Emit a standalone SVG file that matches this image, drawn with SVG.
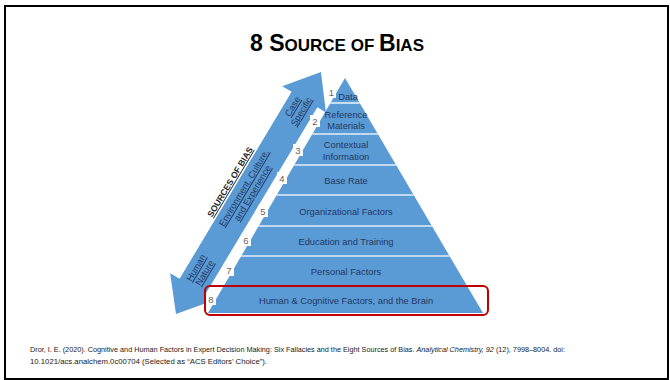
<svg xmlns="http://www.w3.org/2000/svg" width="670" height="380" viewBox="0 0 670 380">
  <style>
    .lbl { font-family: "Liberation Sans", Arial, sans-serif; font-size: 9.3px; fill: #1f3864; text-anchor: middle; }
    .num { font-family: "Liberation Sans", Arial, sans-serif; font-size: 9.5px; fill: #6b6258; text-anchor: middle; }
    .numbg { fill: #ffffff; }
    .arr { font-family: "Liberation Sans", Arial, sans-serif; font-size: 9.1px; fill: #1f3864; text-anchor: middle; text-decoration: underline; }
    .sep { stroke: #e3eef9; stroke-width: 1.6; }
    .cite { font-family: "Liberation Sans", Arial, sans-serif; font-size: 6.3px; fill: #1a1a1a; }
  </style>
  <rect x="0" y="0" width="670" height="380" fill="#ffffff"/>
  <rect x="5" y="6" width="663" height="373" fill="none" stroke="#000000" stroke-width="2"/>

  <g id="title">
    <text x="337" y="51" font-family="'Liberation Sans', Arial, sans-serif" font-weight="bold" fill="#000000" text-anchor="middle"><tspan font-size="23">8 S</tspan><tspan font-size="17">OURCE OF </tspan><tspan font-size="23">B</tspan><tspan font-size="17">IAS</tspan></text>
  </g>

  <g id="sources-arrow" transform="translate(176,314) rotate(-59.07)">
    <polygon points="0,0 32,-26 32,-15 250,-15 250,-26 282,0 250,25 250,15 32,15 32,26" fill="#5b9bd5"/>
    <text class="arr" x="50" y="-3.5">Human</text>
    <text class="arr" x="50" y="6.5">Nature</text>
    <text class="arr" x="143" y="-3.5">Environment, Culture,</text>
    <text class="arr" x="143" y="6.5">and Experience</text>
    <text class="arr" x="238" y="-3.5">Case</text>
    <text class="arr" x="238" y="6.5">Specific</text>
    <text x="141" y="-18.5" font-family="'Liberation Sans', Arial, sans-serif" font-size="8.6px" font-weight="bold" fill="#262626" text-anchor="middle" text-decoration="underline">SOURCES OF BIAS</text>
  </g>

  <g id="pyramid">
    <polygon points="345,78 483,313 208,313" fill="#5b9bd5"/>
  </g>

  <g id="connectors">
    <line class="sep" x1="330.4" y1="103" x2="359.7" y2="103"/>
    <line class="sep" x1="312.4" y1="134" x2="377.9" y2="134"/>
    <line class="sep" x1="294.3" y1="165" x2="396.1" y2="165"/>
    <line class="sep" x1="276.8" y1="195" x2="413.7" y2="195"/>
    <line class="sep" x1="258.7" y1="226" x2="431.9" y2="226"/>
    <line class="sep" x1="241.2" y1="256" x2="449.5" y2="256"/>
    <line class="sep" x1="223.7" y1="286" x2="467.1" y2="286"/>
  </g>

  <g id="layer-1"><rect class="numbg" x="327" y="86" width="9" height="12"/><text class="num" x="331.5" y="96">1</text><text class="lbl" x="348" y="99.5">Data</text></g>
  <g id="layer-2"><rect class="numbg" x="310" y="115" width="10" height="12"/><text class="num" x="315" y="125">2</text><text class="lbl" x="346" y="117.5">Reference</text><text class="lbl" x="346" y="129">Materials</text></g>
  <g id="layer-3"><rect class="numbg" x="293" y="144" width="10" height="12"/><text class="num" x="298" y="154">3</text><text class="lbl" x="346" y="147.5">Contextual</text><text class="lbl" x="346" y="159.5">Information</text></g>
  <g id="layer-4"><rect class="numbg" x="277" y="172" width="10" height="12"/><text class="num" x="282" y="182">4</text><text class="lbl" x="346" y="183.5">Base Rate</text></g>
  <g id="layer-5"><rect class="numbg" x="258" y="205" width="10" height="12"/><text class="num" x="263" y="215">5</text><text class="lbl" x="346" y="214.5">Organizational Factors</text></g>
  <g id="layer-6"><rect class="numbg" x="241" y="234" width="10" height="12"/><text class="num" x="246" y="244">6</text><text class="lbl" x="346" y="244.5">Education and Training</text></g>
  <g id="layer-7"><rect class="numbg" x="224" y="264" width="10" height="12"/><text class="num" x="229" y="274">7</text><text class="lbl" x="346" y="274.5">Personal Factors</text></g>
  <g id="layer-8"><rect class="numbg" x="206" y="293" width="10" height="12"/><text class="num" x="211" y="303">8</text><text class="lbl" x="346" y="304">Human &amp; Cognitive Factors, and the Brain</text></g>

  <g id="highlight">
    <rect x="205" y="286" width="283" height="29" rx="5" fill="none" stroke="#c00000" stroke-width="2"/>
  </g>

  <g id="citation">
    <text class="cite" x="30" y="352" textLength="535" lengthAdjust="spacingAndGlyphs">Dror, I. E. (2020). Cognitive and Human Factors in Expert Decision Making: Six Fallacies and the Eight Sources of Bias. <tspan font-style="italic">Analytical Chemistry, 92</tspan> (12), 7998–8004.  doi:</text>
    <text class="cite" x="30" y="364" textLength="237" lengthAdjust="spacingAndGlyphs">10.1021/acs.analchem.0c00704 (Selected as “ACS Editors’ Choice”).</text>
  </g>
</svg>
